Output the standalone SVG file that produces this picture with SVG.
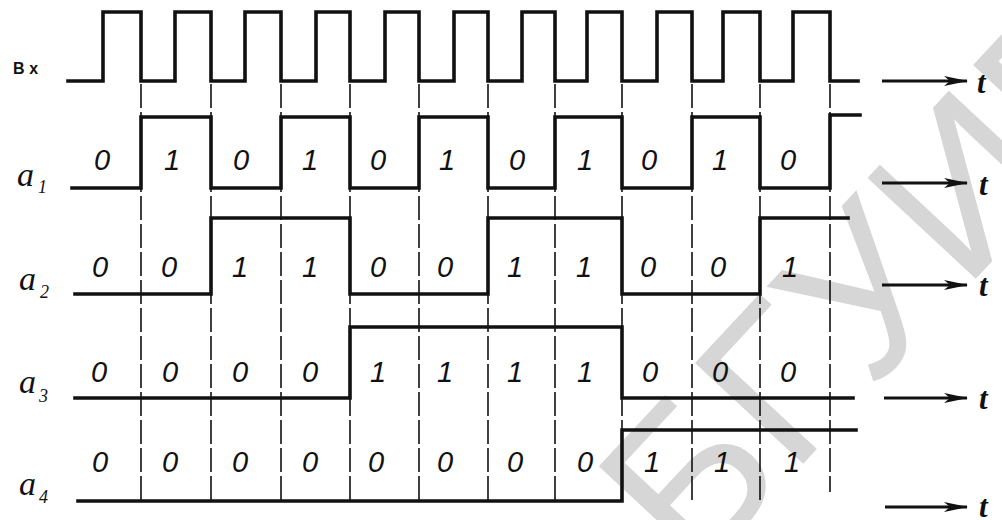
<svg xmlns="http://www.w3.org/2000/svg" width="1002" height="520" viewBox="0 0 1002 520">
<defs>
<style>
.sig{fill:none;stroke:#111;stroke-width:3.6;stroke-linejoin:miter;stroke-linecap:square}
.grid{stroke:#111;stroke-width:1.6;stroke-dasharray:24 4;fill:none}
.arr{stroke:#111;stroke-width:3;fill:none}
.d{font-family:"Liberation Sans",Arial,sans-serif;font-style:italic;font-size:29px;fill:#111;text-anchor:middle}
.lab{font-family:"Liberation Serif","Times New Roman",serif;font-style:italic;font-size:34px;fill:#111}
.sub{font-family:"Liberation Serif","Times New Roman",serif;font-style:italic;font-size:18px;fill:#111}
.t{font-family:"Liberation Serif","Times New Roman",serif;font-style:italic;font-weight:bold;font-size:31px;fill:#111}
.bx{font-family:"Liberation Sans",Arial,sans-serif;font-weight:bold;font-size:16px;letter-spacing:5px;fill:#111}
.wm{font-family:"Liberation Sans",Arial,sans-serif;font-size:215px;fill:#d6d6d6}
</style>
<marker id="ah" viewBox="0 0 24 12" refX="23" refY="6" markerWidth="24" markerHeight="12" markerUnits="userSpaceOnUse" orient="auto">
<path d="M0,1 L24,6 L0,11 L6,6 Z" fill="#111"/>
</marker>
</defs>
<rect width="1002" height="520" fill="#fff"/>
<text class="wm" transform="translate(695,580) rotate(-47)">БГУИР</text>

<g id="grid">
<line class="grid" x1="141" y1="84" x2="141" y2="500"/>
<line class="grid" x1="211" y1="84" x2="211" y2="500"/>
<line class="grid" x1="281" y1="84" x2="281" y2="500"/>
<line class="grid" x1="350" y1="84" x2="350" y2="500"/>
<line class="grid" x1="419" y1="84" x2="419" y2="500"/>
<line class="grid" x1="488" y1="84" x2="488" y2="500"/>
<line class="grid" x1="555" y1="84" x2="555" y2="500"/>
<line class="grid" x1="622" y1="84" x2="622" y2="500"/>
<line class="grid" x1="692" y1="84" x2="692" y2="503"/>
<line class="grid" x1="760" y1="84" x2="760" y2="500"/>
<line class="grid" x1="830" y1="84" x2="830" y2="492"/>
</g>

<g id="bx">
<text class="bx" x="13" y="74">Вх</text>
<path class="sig" d="M68,81 H103 V12 H141 V81 H175 V12 H211 V81 H245 V12 H281 V81 H316 V12 H350 V81 H385 V12 H419 V81 H454 V12 H488 V81 H522 V12 H555 V81 H587 V12 H622 V81 H657 V12 H692 V81 H723 V12 H760 V81 H793 V12 H830 V81 H858"/>
</g>

<g id="a1">
<text class="lab" x="17" y="186">a</text><text class="sub" x="38" y="193">1</text>
<path class="sig" d="M72,188 H141 V117 H211 V188 H281 V117 H350 V188 H419 V117 H488 V188 H555 V117 H622 V188 H692 V117 H760 V188 H830 V115 H860"/>
<g>
<text class="d" x="102" y="170">0</text><text class="d" x="172" y="170">1</text><text class="d" x="241" y="170">0</text><text class="d" x="310" y="170">1</text><text class="d" x="378" y="170">0</text><text class="d" x="447" y="170">1</text><text class="d" x="517" y="170">0</text><text class="d" x="585" y="170">1</text><text class="d" x="649" y="170">0</text><text class="d" x="720" y="170">1</text><text class="d" x="788" y="170">0</text>
</g>
</g>

<g id="a2">
<text class="lab" x="19" y="290">a</text><text class="sub" x="40" y="298">2</text>
<path class="sig" d="M75,294 H211 V218 H350 V294 H488 V218 H622 V294 H760 V218 H848"/>
<g>
<text class="d" x="100" y="277">0</text><text class="d" x="169" y="277">0</text><text class="d" x="240" y="277">1</text><text class="d" x="310" y="277">1</text><text class="d" x="378" y="277">0</text><text class="d" x="445" y="277">0</text><text class="d" x="515" y="277">1</text><text class="d" x="584" y="277">1</text><text class="d" x="648" y="277">0</text><text class="d" x="718" y="277">0</text><text class="d" x="790" y="277">1</text>
</g>
</g>

<g id="a3">
<text class="lab" x="19" y="393">a</text><text class="sub" x="39" y="402">3</text>
<path class="sig" d="M75,398 H350 V327 H622 V398 H853"/>
<g>
<text class="d" x="99" y="382">0</text><text class="d" x="170" y="382">0</text><text class="d" x="240" y="382">0</text><text class="d" x="310" y="382">0</text><text class="d" x="378" y="382">1</text><text class="d" x="445" y="382">1</text><text class="d" x="515" y="382">1</text><text class="d" x="585" y="382">1</text><text class="d" x="650" y="382">0</text><text class="d" x="720" y="382">0</text><text class="d" x="788" y="382">0</text>
</g>
</g>

<g id="a4">
<text class="lab" x="19" y="495">a</text><text class="sub" x="39" y="503">4</text>
<path class="sig" d="M78,501 H622 V430 H856"/>
<g>
<text class="d" x="100" y="472">0</text><text class="d" x="170" y="472">0</text><text class="d" x="240" y="472">0</text><text class="d" x="310" y="472">0</text><text class="d" x="376" y="472">0</text><text class="d" x="445" y="472">0</text><text class="d" x="515" y="472">0</text><text class="d" x="585" y="472">0</text><text class="d" x="652" y="472">1</text><text class="d" x="722" y="472">1</text><text class="d" x="792" y="472">1</text>
</g>
</g>

<g id="connectors">
<line class="arr" x1="882" y1="81" x2="967" y2="81" marker-end="url(#ah)"/>
<line class="arr" x1="882" y1="183" x2="967" y2="183" marker-end="url(#ah)"/>
<line class="arr" x1="882" y1="285" x2="967" y2="285" marker-end="url(#ah)"/>
<line class="arr" x1="884" y1="398" x2="967" y2="398" marker-end="url(#ah)"/>
<line class="arr" x1="885" y1="507" x2="967" y2="507" marker-end="url(#ah)"/>
</g>
<g id="axis-labels">
<text class="t" x="977" y="93">t</text>
<text class="t" x="979" y="195">t</text>
<text class="t" x="979" y="296">t</text>
<text class="t" x="979" y="409">t</text>
<text class="t" x="979" y="517">t</text>
</g>
</svg>
